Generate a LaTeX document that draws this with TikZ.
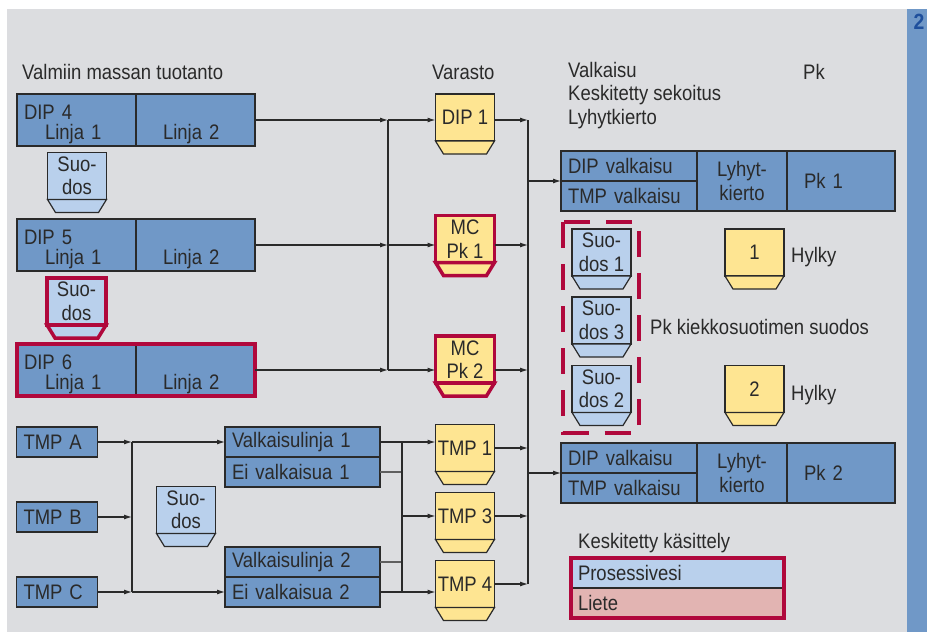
\documentclass[tikz,border=0pt]{standalone}
\usepackage{fontspec}
\setmainfont{Liberation Sans}[FakeStretch=0.88]
\usepackage{xcolor}
\usepackage{tikz}
\usetikzlibrary{arrows.meta,positioning}

\definecolor{panel}{HTML}{DCDDE0}
\definecolor{boxblue}{HTML}{7098C7}
\definecolor{lightblue}{HTML}{B9D0EC}
\definecolor{tankyellow}{HTML}{FEE592}
\definecolor{hlred}{HTML}{B0083C}
\definecolor{sludge}{HTML}{E2B4B2}
\definecolor{ink}{HTML}{2A2A2A}
\definecolor{numblue}{HTML}{1E4F9C}

\newcommand{\fs}{\fontsize{21}{23.5}\selectfont}
% storage tank: body node plus a conical foot
\newcommand{\tank}[4][]{%
  \node[tankbody,#1] (#2) at (#3) {#4};
  \draw[tankfoot,#1] (#2.south west) -- ([shift={(8,13)}]#2.south west)
    -- ([shift={(-8,13)}]#2.south east) -- (#2.south east) -- cycle;
}

\begin{document}
\begin{tikzpicture}[
    x=1pt, y=-1pt, font=\fs, text=ink, inner sep=0pt,
    blk/.style={draw=ink, fill=boxblue, line width=1.2pt, outer sep=0pt, align=left},
    dipcell/.style={blk, minimum width=119pt, minimum height=52pt, text width=105pt},
    rowcell/.style={blk, minimum width=136pt, minimum height=30pt, text width=122pt},
    tmpcell/.style={blk, minimum width=81pt, minimum height=30pt, text width=67pt},
    valkcell/.style={blk, minimum width=155pt, minimum height=30pt, text width=141pt},
    tankbody/.style={draw=ink, fill=lightblue, line width=1.2pt, outer sep=0pt,
        minimum width=59pt, minimum height=47pt, align=center},
    tankfoot/.style={draw=ink, fill=lightblue, line width=1.2pt},
    yel/.style={fill=tankyellow},
    redtank/.style={draw=hlred, line width=3.5pt},
    hlframe/.style={draw=hlred, line width=4pt},
    hldash/.style={draw=hlred, line width=4pt, dash pattern=on 26pt off 16pt},
    conn/.style={draw=ink, line width=1.1pt},
    arrow/.style={conn, -{Latex[length=8pt,width=5pt]}},
]
    \useasboundingbox (0,0) rectangle (927,632);
    \fill[panel] (7,9) rectangle (907,632);
    \fill[boxblue] (907,9) rectangle (927,632);
    \node[font=\fontsize{22}{22}\selectfont\bfseries, text=numblue] (num) at (919,22) {2};

    % headers
    \node[anchor=west] (hProd) at (22,72) {Valmiin massan tuotanto};
    \node[anchor=west] (hStore) at (432,72) {Varasto};
    \node[anchor=west, align=left] (hBleach) at (568,95.5) {Valkaisu\\Keskitetty sekoitus\\Lyhytkierto};
    \node[anchor=west] (hPk) at (803,72) {Pk};

    % DIP lines
    \node[dipcell] (D4a) at (76.5,120) {\rule{0pt}{23pt}DIP 4\\[-3pt]\hspace*{21pt}Linja 1};
    \node[dipcell, right=0pt of D4a] (D4b) {\rule{0pt}{23pt}\\[-3pt]\hspace*{20pt}Linja 2};
    \node[dipcell] (D5a) at (76.5,245) {\rule{0pt}{23pt}DIP 5\\[-3pt]\hspace*{21pt}Linja 1};
    \node[dipcell, right=0pt of D5a] (D5b) {\rule{0pt}{23pt}\\[-3pt]\hspace*{20pt}Linja 2};
    \node[dipcell] (D6a) at (76.5,370) {\rule{0pt}{23pt}DIP 6\\[-3pt]\hspace*{21pt}Linja 1};
    \node[dipcell, right=0pt of D6a] (D6b) {\rule{0pt}{23pt}\\[-3pt]\hspace*{20pt}Linja 2};
    \draw[hlframe] (D6a.north west) rectangle (D6b.south east);

    \tank{S4}{77,176}{Suo-\\dos}
    \tank[redtank]{S5}{76.5,301.5}{Suo-\\dos}

    % storage
    \tank[yel]{T1}{465,117.5}{DIP 1}
    \tank[yel,redtank]{MC1}{465,239}{MC\\Pk 1}
    \tank[yel,redtank]{MC2}{465,359.5}{MC\\Pk 2}

    \coordinate (lbT) at (388,120);
    \coordinate (lbM) at (388,245);
    \coordinate (lbB) at (388,370);
    \draw[arrow] (D4b.east |- lbT) -- (lbT);
    \draw[arrow] (D5b.east |- lbM) -- (lbM);
    \draw[arrow] (D6b.east |- lbB) -- (lbB);
    \draw[conn] (lbT) -- (lbB);
    \draw[arrow] (lbT) -- (lbT -| T1.west);
    \draw[arrow] (lbM) -- (lbM -| MC1.west);
    \draw[arrow] (lbB) -- (lbB -| MC2.west);

    % TMP lines
    \node[tmpcell] (TA) at (57,442) {TMP A};
    \node[tmpcell] (TB) at (57,517) {TMP B};
    \node[tmpcell] (TC) at (57,592) {TMP C};
    \tank{S0}{186,510}{Suo-\\dos}

    \node[valkcell] (V1) at (302.5,442) {Valkaisulinja 1};
    \node[valkcell, below=0pt of V1] (E1) {Ei valkaisua 1};
    \node[valkcell] (V2) at (302.5,562) {Valkaisulinja 2};
    \node[valkcell, below=0pt of V2] (E2) {Ei valkaisua 2};

    \coordinate (bbT) at (132,442);
    \coordinate (bbB) at (132,592);
    \draw[arrow] (TA) -- (bbT);
    \draw[arrow] (TB) -- (TB -| bbT);
    \draw[arrow] (TC) -- (bbB);
    \draw[conn] (bbT) -- (bbB);
    \draw[arrow] (bbT) -- (bbT -| V1.west);
    \draw[arrow] (bbB) -- (bbB -| E2.west);

    \tank[yel]{T2}{465,448}{TMP 1}
    \tank[yel]{T3}{465,516}{TMP 3}
    \tank[yel]{T4}{465,584}{TMP 4}

    \coordinate (mbT) at (402,442);
    \coordinate (mbB) at (402,592);
    \draw[arrow] (V1.east) -- (V1.east -| T2.west);
    \draw[conn, draw=ink!75] (E1.east) -- (E1.east -| mbT);
    \draw[conn, draw=ink!75] (V2.east) -- (V2.east -| mbT);
    \draw[arrow] (E2.east) -- (E2.east -| T4.west);
    \draw[conn] (mbT) -- (mbB);
    \draw[arrow] (mbT |- T3) -- (T3.west);

    % bleaching and paper machines
    \node[rowcell] (P1a) at (629,166) {DIP valkaisu};
    \node[rowcell, below=0pt of P1a] (P1b) {TMP valkaisu};
    \node[blk, minimum width=90pt, minimum height=60pt, align=center, right=0pt of P1a.south east] (P1c) {Lyhyt-\\kierto};
    \node[blk, minimum width=108pt, minimum height=60pt, text width=74pt, right=0pt of P1c] (P1d) {Pk 1};

    \node[rowcell] (P2a) at (629,458) {DIP valkaisu};
    \node[rowcell, below=0pt of P2a] (P2b) {TMP valkaisu};
    \node[blk, minimum width=90pt, minimum height=60pt, align=center, right=0pt of P2a.south east] (P2c) {Lyhyt-\\kierto};
    \node[blk, minimum width=108pt, minimum height=60pt, text width=74pt, right=0pt of P2c] (P2d) {Pk 2};

    \coordinate (rbT) at (528,120);
    \coordinate (rbB) at (528,584);
    \draw[arrow] (T1.east |- rbT) -- (rbT);
    \draw[arrow] (MC1.east |- lbM) -- (lbM -| rbT);
    \draw[arrow] (MC2.east |- lbB) -- (lbB -| rbT);
    \draw[arrow] (T2) -- (T2 -| rbT);
    \draw[arrow] (T3) -- (T3 -| rbT);
    \draw[arrow] (T4) -- (rbB);
    \draw[conn] (rbT) -- (rbB);
    \draw[arrow] (rbT |- P1a.south west) -- (P1a.south west);
    \draw[arrow] (rbT |- P2a.south west) -- (P2a.south west);

    % disc filter filtrates and rejects
    \tank{F1}{601.5,252.5}{Suo-\\dos 1}
    \tank{F3}{601.5,320.5}{Suo-\\dos 3}
    \tank{F2}{601.5,389}{Suo-\\dos 2}
    \draw[hldash] ([shift={(-9,-7)}]F1.north west) rectangle ([shift={(8,20)}]F2.south east);
    \node[anchor=west] (lFilt) at (650,327) {Pk kiekkosuotimen suodos};

    \tank[yel]{H1}{754.5,252.5}{1}
    \tank[yel]{H2}{754.5,389}{2}
    \node[anchor=west] (lH1) at (791,257) {Hylky};
    \node[anchor=west] (lH2) at (791,395) {Hylky};

    % legend
    \node[anchor=west] (lKes) at (578,543) {Keskitetty käsittely};
    \node[blk, fill=lightblue, minimum width=213pt, minimum height=30pt, text width=199pt] (Lpv) at (677.5,573) {Prosessivesi};
    \node[blk, fill=sludge, minimum width=213pt, minimum height=30pt, text width=199pt, below=0pt of Lpv] (Llt) {Liete};
    \draw[hlframe] (Lpv.north west) rectangle (Llt.south east);
\end{tikzpicture}
\end{document}
